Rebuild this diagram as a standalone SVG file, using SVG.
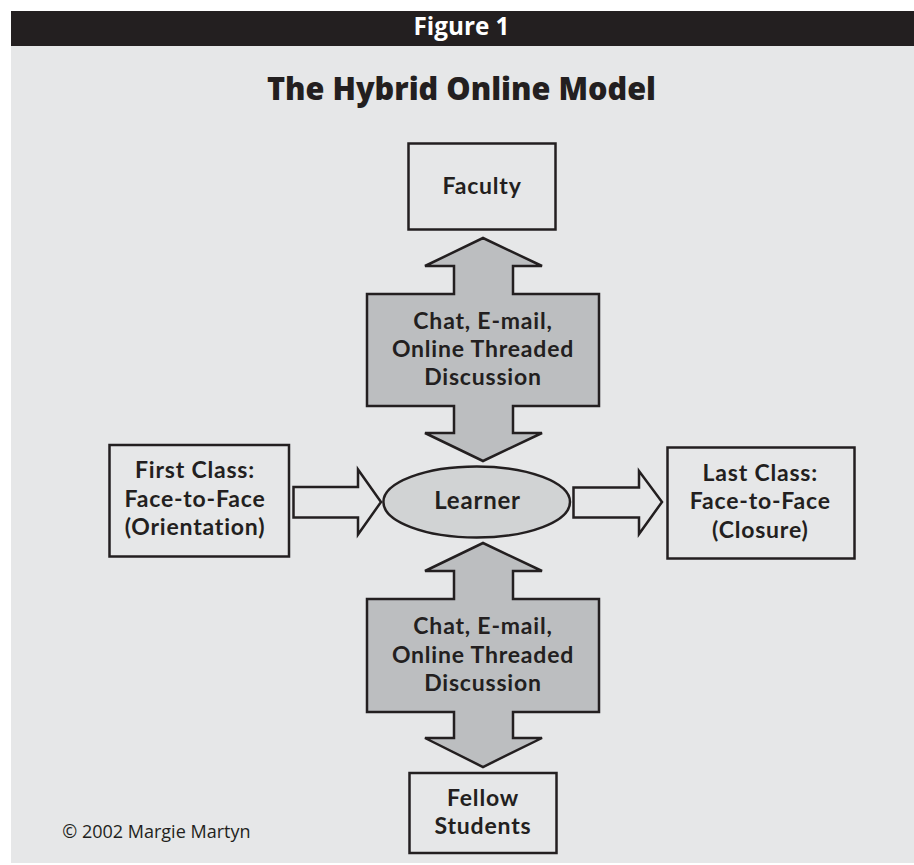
<svg xmlns="http://www.w3.org/2000/svg" width="914" height="865" viewBox="0 0 914 865">
<style>
.t{font-family:Lato,"Open Sans","Liberation Sans",sans-serif;font-weight:bold;fill:#231f20;text-anchor:middle;font-size:23px;letter-spacing:0.8px}
.h{font-family:"Open Sans","Liberation Sans",sans-serif;font-weight:bold;fill:#231f20;text-anchor:middle}
.box{fill:none;stroke:#231f20;stroke-width:2.5}
.dbl{fill:#bcbec0;stroke:#231f20;stroke-width:2.5;stroke-linejoin:miter}
.arr{fill:#e6e7e8;stroke:#231f20;stroke-width:2.5;stroke-linejoin:miter}
</style>
<rect x="0" y="0" width="914" height="865" fill="#ffffff"/>
<rect x="11" y="11" width="903" height="852" fill="#e6e7e8"/>
<rect x="11" y="11" width="903" height="35" fill="#231f20"/>
<text x="461.5" y="34.5" class="h" style="fill:#ffffff;font-size:24.5px" textLength="96" lengthAdjust="spacingAndGlyphs">Figure 1</text>
<text x="461.5" y="100" class="h" style="font-size:31px;font-weight:800" textLength="389" lengthAdjust="spacingAndGlyphs">The Hybrid Online Model</text>

<g id="connectors">
<polygon id="arrow-top" class="dbl" points="483,238 542,266 513,266 513,294 599,294 599,406 513,406 513,433 542,433 483,461 425,433 454,433 454,406 367,406 367,294 454,294 454,266 425,266"/>
<text class="t" x="483" y="328.5">Chat, E-mail,</text>
<text class="t" x="483" y="356.7">Online Threaded</text>
<text class="t" x="483" y="384.5">Discussion</text>
<polygon id="arrow-bottom" class="dbl" points="483,543 542,571 513,571 513,599 599,599 599,712 513,712 513,738 542,738 483,767 425,738 454,738 454,712 367,712 367,599 454,599 454,571 425,571"/>
<text class="t" x="483" y="634">Chat, E-mail,</text>
<text class="t" x="483" y="663">Online Threaded</text>
<text class="t" x="483" y="691">Discussion</text>
<polygon id="arrow-left" class="arr" points="293.5,487 358,487 358,469.5 381,502 358,534.5 358,517.5 293.5,517.5"/>
<polygon id="arrow-right" class="arr" points="573.5,487.5 639,487.5 639,471 662,502 639,534 639,517.5 573.5,517.5"/>
</g>

<g id="faculty">
<rect class="box" x="408.5" y="143.5" width="147" height="86"/>
<text class="t" x="482" y="193.5">Faculty</text>
</g>

<g id="learner">
<ellipse cx="476.7" cy="502" rx="93.3" ry="35.5" fill="#d1d3d4" stroke="#231f20" stroke-width="2.5"/>
<text class="t" x="477.5" y="508.5" style="font-size:24px">Learner</text>
</g>

<g id="first-class">
<rect class="box" x="109.5" y="445" width="179.5" height="111.5"/>
<text class="t" x="195" y="477.7">First Class:</text>
<text class="t" x="195" y="506.7">Face-to-Face</text>
<text class="t" x="195" y="535">(Orientation)</text>
</g>

<g id="last-class">
<rect class="box" x="667.5" y="447.5" width="187" height="111"/>
<text class="t" x="760.3" y="480.7">Last Class:</text>
<text class="t" x="760.3" y="509.3">Face-to-Face</text>
<text class="t" x="760.3" y="538.3">(Closure)</text>
</g>

<g id="fellow-students">
<rect class="box" x="409.5" y="773" width="147" height="80"/>
<text class="t" x="483" y="806">Fellow</text>
<text class="t" x="483" y="834.3">Students</text>
</g>

<text x="62.3" y="838.3" style="font-family:'Open Sans','Liberation Sans',sans-serif;font-size:18px;fill:#231f20">© 2002 Margie Martyn</text>
</svg>
